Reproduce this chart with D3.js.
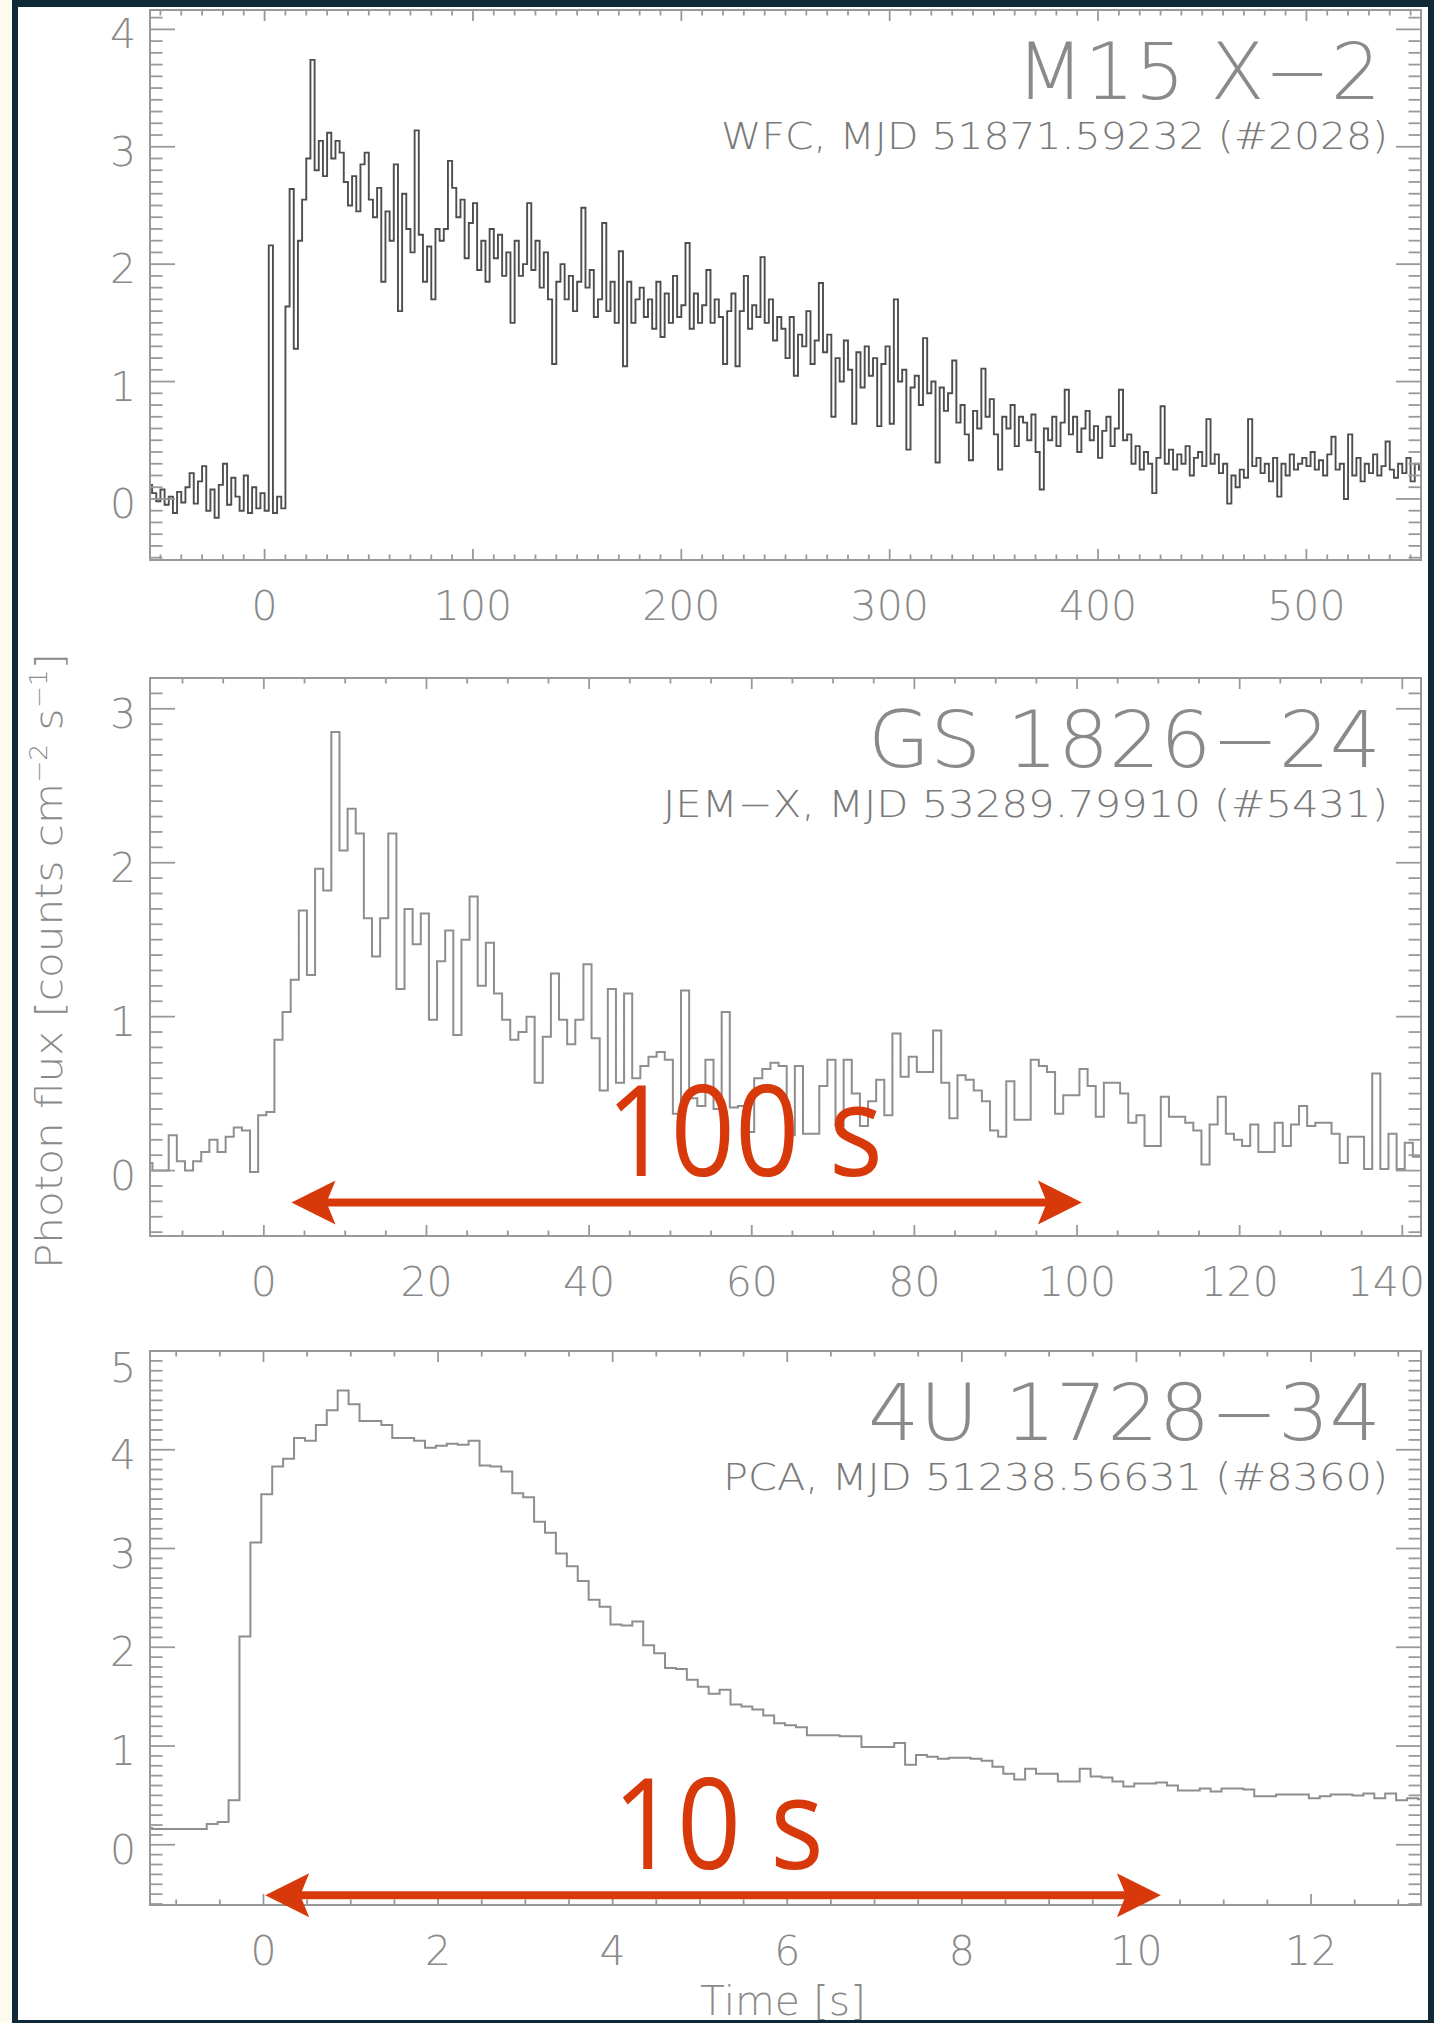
<!DOCTYPE html>
<html>
<head>
<meta charset="utf-8">
<script src="https://cdn.jsdelivr.net/npm/d3@7"></script>
<style>
  html, body { margin: 0; padding: 0; background: #fdfaee; }
  svg { display: block; }
  .lbl { font-family: "DejaVu Sans", sans-serif; font-weight: 200; fill: #8a8a8a; }
  .info { fill: #7a7a7a; }
  .red { font-family: "Open Sans", "Noto Sans", sans-serif; fill: #d8390b; }
</style>
</head>
<body>
<svg id="chart" width="1434" height="2023"></svg>
<script>
// ---- data ----
// M15 X-2, WFC, 2 s bins starting at t = -56 s
const m15Start = -56, m15Bin = 2;
const m15Flux = [
  0.12, 0.05, -0.02, 0.08, -0.05, 0.02, -0.12, 0.06, -0.03, 0.1, 0.22, -0.04, 0.15, 0.28, -0.1, 0.08, -0.16, 0.12, 0.3, -0.05,
  0.18, 0.02, -0.1, 0.2, -0.12, 0.1, -0.08, 0.05,
  -0.1, 2.16, -0.12, 0.02, -0.08, 1.64, 2.64, 1.28, 2.2, 2.55, 2.9, 3.74,
  2.8, 3.05, 2.75, 3.12, 2.9, 3.05, 2.95, 2.7, 2.5, 2.75, 2.45, 2.85, 2.95, 2.55, 2.4, 2.65, 1.85, 2.45, 2.2, 2.85,
  1.6, 2.6, 2.3, 2.1, 3.14, 2.25, 1.85, 2.15, 1.7, 2.3, 2.2, 2.3, 2.88, 2.65, 2.4, 2.55, 2.05, 2.35, 2.52, 1.95,
  2.2, 1.85, 2.3, 2.05, 2.25, 1.9, 2.1, 1.5, 2.2, 1.9, 2.0, 2.52, 1.95, 2.2, 1.8, 2.1, 1.7, 1.15, 1.85, 2.0,
  1.7, 1.9, 1.6, 1.85, 2.48, 1.8, 1.95, 1.55, 1.7, 2.35, 1.6, 1.85, 1.5, 2.11, 1.13, 1.85, 1.5, 1.7, 1.8, 1.55,
  1.7, 1.45, 1.85, 1.38, 1.75, 1.5, 1.9, 1.55, 1.65, 2.18, 1.45, 1.75, 1.5, 1.65, 1.95, 1.5, 1.7, 1.55, 1.15, 1.6,
  1.75, 1.13, 1.6, 1.9, 1.45, 1.65, 1.55, 2.06, 1.5, 1.7, 1.35, 1.55, 1.45, 1.2, 1.55, 1.05, 1.4, 1.3, 1.6, 1.15,
  1.35, 1.84, 1.25, 1.4, 0.7, 1.2, 1.0, 1.35, 1.1, 0.64, 1.25, 0.95, 1.3, 1.05, 1.2, 0.62, 1.15, 1.3, 0.64, 1.7,
  1.0, 1.1, 0.42, 0.95, 1.05, 0.8, 1.37, 0.9, 1.0, 0.31, 0.95, 0.75, 0.9, 1.18, 0.65, 0.8, 0.55, 0.33, 0.75, 0.6,
  1.11, 0.7, 0.85, 0.55, 0.25, 0.7, 0.6, 0.8, 0.45, 0.7, 0.65, 0.5, 0.72, 0.4, 0.08, 0.6, 0.5, 0.7, 0.45, 0.65,
  0.93, 0.55, 0.7, 0.4, 0.6, 0.75, 0.5, 0.62, 0.35, 0.58, 0.7, 0.45, 0.6, 0.93, 0.5, 0.55, 0.3, 0.45, 0.25, 0.4,
  0.3, 0.05, 0.35, 0.79, 0.3, 0.42, 0.25, 0.38, 0.3, 0.45, 0.2, 0.35, 0.4, 0.28, 0.68, 0.3, 0.38, 0.22, 0.3, -0.04,
  0.2, 0.1, 0.25, 0.18, 0.68, 0.28, 0.35, 0.22, 0.3, 0.15, 0.35, 0.02, 0.3, 0.2, 0.38, 0.25, 0.3, 0.35, 0.28, 0.4,
  0.25, 0.33, 0.2, 0.38, 0.53, 0.25, 0.3, 0.0, 0.55, 0.2, 0.35, 0.15, 0.3, 0.22, 0.38, 0.2, 0.28, 0.49, 0.25, 0.18,
  0.3, 0.22, 0.35, 0.15, 0.3, 0.25
];

// GS 1826-24, JEM-X, 1 s bins starting at t = -14.7 s
const gsStart = -14.7, gsBin = 1;
const gsFlux = [
  0.05, 0.0, 0.0, 0.23, 0.06, 0.0, 0.06, 0.12, 0.20, 0.12, 0.22, 0.28, 0.26, -0.01, 0.36, 0.38, 0.85, 1.03, 1.24, 1.69,
  1.27, 1.96, 1.82, 2.85, 2.08, 2.35, 2.19, 1.64, 1.39, 1.64, 2.19, 1.18, 1.70, 1.47, 1.67, 0.98, 1.36, 1.56, 0.88, 1.50,
  1.78, 1.20, 1.48, 1.15, 0.98, 0.85, 0.90, 1.00, 0.57, 0.87, 1.28, 0.98, 0.82, 0.98, 1.34, 0.86, 0.52, 1.18, 0.57, 1.15,
  0.60, 0.68, 0.74, 0.77, 0.72, 0.37, 1.17, 0.47, 0.42, 0.72, 0.40, 1.03, 0.41, 0.42, 0.25, 0.60, 0.66, 0.70, 0.68, 0.23,
  0.68, 0.24, 0.24, 0.55, 0.72, 0.29, 0.72, 0.50, 0.29, 0.45, 0.59, 0.36, 0.89, 0.61, 0.74, 0.64, 0.64, 0.91, 0.57, 0.34,
  0.62, 0.59, 0.52, 0.45, 0.26, 0.22, 0.58, 0.33, 0.33, 0.72, 0.68, 0.64, 0.37, 0.49, 0.49, 0.66, 0.55, 0.35, 0.57, 0.57,
  0.50, 0.31, 0.36, 0.16, 0.16, 0.48, 0.35, 0.35, 0.31, 0.26, 0.04, 0.30, 0.48, 0.24, 0.20, 0.16, 0.30, 0.12, 0.12, 0.31,
  0.16, 0.30, 0.42, 0.29, 0.31, 0.31, 0.24, 0.05, 0.22, 0.22, 0.01, 0.63, 0.01, 0.24, 0.01, 0.18, 0.09
];

// 4U 1728-34, PCA, 0.125 s bins starting at t = -1.4 s
const u4Start = -1.4, u4Bin = 0.125;
const u4Flux = [
  0.17, 0.16, 0.16, 0.16, 0.16, 0.16, 0.21, 0.23, 0.45, 2.11,
  3.06, 3.55, 3.83, 3.91, 4.12, 4.09, 4.25, 4.40, 4.60, 4.46,
  4.29, 4.29, 4.25, 4.12, 4.12, 4.09, 4.02, 4.04, 4.06, 4.05,
  4.09, 3.84, 3.83, 3.78, 3.56, 3.52, 3.27, 3.16, 2.95, 2.82,
  2.67, 2.48, 2.41, 2.23, 2.22, 2.26, 2.02, 1.94, 1.79, 1.78,
  1.67, 1.60, 1.53, 1.57, 1.42, 1.40, 1.37, 1.31, 1.23, 1.21,
  1.19, 1.11, 1.11, 1.11, 1.10, 1.10, 0.99, 0.99, 0.99, 1.03,
  0.81, 0.91, 0.89, 0.87, 0.88, 0.88, 0.87, 0.85, 0.79, 0.72,
  0.66, 0.77, 0.72, 0.72, 0.64, 0.64, 0.77, 0.69, 0.68, 0.64,
  0.59, 0.62, 0.62, 0.63, 0.60, 0.55, 0.55, 0.57, 0.54, 0.57,
  0.57, 0.56, 0.49, 0.49, 0.51, 0.51, 0.51, 0.47, 0.49, 0.51,
  0.51, 0.50, 0.52, 0.47, 0.52, 0.45, 0.47, 0.46
];

// axes
const xDomains = [[-55, 555], [-14, 142.3], [-1.3, 13.26]];
const yDomains = [[-0.52, 4.165], [-0.425, 3.2], [-0.61, 5.0]];
const xMajor = [[0, 100, 200, 300, 400, 500], [0, 20, 40, 60, 80, 100, 120, 140], [0, 2, 4, 6, 8, 10, 12]];
const xMinorStep = [10, 5, 0.5];
const yMajor = [[0, 1, 2, 3, 4], [0, 1, 2, 3], [0, 1, 2, 3, 4, 5]];
const yMinorStep = [0.1, 0.1, 0.1];

// labels
const sourceNames = ["M15 X\u22122", "GS 1826\u221224", "4U 1728\u221234"];
const sourceInfo = ["WFC, MJD 51871.59232 (#2028)", "JEM\u2212X, MJD 53289.79910 (#5431)", "PCA, MJD 51238.56631 (#8360)"];
const yTitle = "Photon flux [counts cm";
const xTitle = "Time [s]";

// red duration markers (panel index, from, to, arrow level, label)
const spanPanel = [1, 2];
const spanFrom = [3.4, 0.02];
const spanTo = [100.6, 10.28];
const spanLevel = [-0.207, -0.511];
const spanText = ["100 s", "10 s"];
const spanTextX = [59.1, 5.21];
const spanTextY = [-0.032, -0.247];

// ---- layout ----
const W = 1434, H = 2023;
const plotLeft = 150, plotRight = 1421;
const layout = [
  { top: 10, bottom: 560, color: "#4e4e4e", lw: 1.9, nameX: 1016, nameW: 365, infoX: 721, infoW: 667 },
  { top: 678, bottom: 1236, color: "#8e8e8e", lw: 2, nameX: 868, nameW: 513, infoX: 663, infoW: 725 },
  { top: 1351, bottom: 1905, color: "#8e8e8e", lw: 2, nameX: 868, nameW: 513, infoX: 723, infoW: 665 }
];
const spanWidth = [277, 211];
const frameInnerRight = 1428;

const series = [
  { start: m15Start, bin: m15Bin, flux: m15Flux },
  { start: gsStart, bin: gsBin, flux: gsFlux },
  { start: u4Start, bin: u4Bin, flux: u4Flux }
];

const axisColor = "#999999";
const svg = d3.select("#chart");

svg.append("rect").attr("width", W).attr("height", H).attr("fill", "#ffffff");

function stepRange(d0, d1, step) {
  var out = [];
  var k0 = Math.ceil(d0 / step - 1e-6), k1 = Math.floor(d1 / step + 1e-6);
  for (var k = k0; k <= k1; k++) out.push(+(k * step).toFixed(6));
  return out;
}

const scales = [];

layout.forEach(function(p, i) {
  var x = d3.scaleLinear().domain(xDomains[i]).range([plotLeft, plotRight]);
  var y = d3.scaleLinear().domain(yDomains[i]).range([p.bottom, p.top]);
  scales.push({ x: x, y: y });

  var g = svg.append("g").attr("class", "panel");

  g.append("clipPath").attr("id", "clip" + i)
    .append("rect")
      .attr("x", plotLeft).attr("y", p.top)
      .attr("width", plotRight - plotLeft).attr("height", p.bottom - p.top);

  // step light curve
  var s = series[i];
  var pts = s.flux.map(function(v, k) { return [s.start + k * s.bin, v]; });
  pts.push([s.start + s.flux.length * s.bin, s.flux[s.flux.length - 1]]);

  var line = d3.line()
    .x(d => x(d[0]))
    .y(d => y(d[1]))
    .curve(d3.curveStepAfter);

  g.append("path")
    .attr("clip-path", "url(#clip" + i + ")")
    .attr("d", line(pts))
    .attr("fill", "none")
    .attr("stroke", p.color)
    .attr("stroke-width", p.lw)
    .attr("stroke-linejoin", "miter");

  // box
  g.append("rect")
    .attr("x", plotLeft).attr("y", p.top)
    .attr("width", plotRight - plotLeft).attr("height", p.bottom - p.top)
    .attr("fill", "none").attr("stroke", axisColor).attr("stroke-width", 2);

  // ticks on all four sides, pointing inward
  var xt = stepRange(xDomains[i][0], xDomains[i][1], xMinorStep[i]).map(function(v) {
    return { v: v, major: xMajor[i].some(m => Math.abs(m - v) < 1e-6) };
  });
  var yt = stepRange(yDomains[i][0], yDomains[i][1], yMinorStep[i]).map(function(v) {
    return { v: v, major: yMajor[i].some(m => Math.abs(m - v) < 1e-6) };
  });

  var ticks = g.append("g").attr("stroke", axisColor).attr("stroke-width", 1.8);

  ticks.selectAll(".xb").data(xt).enter().append("line")
    .attr("x1", d => x(d.v)).attr("x2", d => x(d.v))
    .attr("y1", p.bottom).attr("y2", d => p.bottom - (d.major ? 11 : 5.5));
  ticks.selectAll(".xt").data(xt).enter().append("line")
    .attr("x1", d => x(d.v)).attr("x2", d => x(d.v))
    .attr("y1", p.top).attr("y2", d => p.top + (d.major ? 11 : 5.5));
  ticks.selectAll(".yl").data(yt).enter().append("line")
    .attr("y1", d => y(d.v)).attr("y2", d => y(d.v))
    .attr("x1", plotLeft).attr("x2", d => plotLeft + (d.major ? 25 : 12.5));
  ticks.selectAll(".yr").data(yt).enter().append("line")
    .attr("y1", d => y(d.v)).attr("y2", d => y(d.v))
    .attr("x1", plotRight).attr("x2", d => plotRight - (d.major ? 25 : 12.5));

  // tick labels (the last one is kept inside the frame)
  g.selectAll(".xlab").data(xMajor[i]).enter().append("text")
    .attr("class", "lbl")
    .attr("x", d => x(d))
    .attr("y", p.bottom + 60)
    .attr("text-anchor", "middle")
    .style("font-size", "41px")
    .text(d => d)
    .each(function() {
      var b = this.getBBox();
      if (b.x + b.width > frameInnerRight - 2) {
        d3.select(this).attr("x", +d3.select(this).attr("x") - (b.x + b.width - frameInnerRight + 3));
      }
    });

  g.selectAll(".ylab").data(yMajor[i]).enter().append("text")
    .attr("class", "lbl")
    .attr("x", 123)
    .attr("y", d => Math.max(y(d) + 4, p.top + 16) + 15)
    .attr("text-anchor", "middle")
    .style("font-size", "41px")
    .text(d => d);

  // source name and observation
  g.append("text")
    .attr("class", "lbl")
    .attr("x", p.nameX).attr("y", p.top + 89)
    .attr("textLength", p.nameW).attr("lengthAdjust", "spacingAndGlyphs")
    .style("font-size", "78px")
    .text(sourceNames[i]);

  g.append("text")
    .attr("class", "lbl info")
    .attr("x", p.infoX).attr("y", p.top + 139)
    .attr("textLength", p.infoW).attr("lengthAdjust", "spacingAndGlyphs")
    .style("font-size", "37px")
    .text(sourceInfo[i]);
});

// axis titles
var ytl = svg.append("text")
  .attr("class", "lbl")
  .attr("transform", "translate(62,961) rotate(-90)")
  .attr("text-anchor", "middle")
  .attr("textLength", 616).attr("lengthAdjust", "spacingAndGlyphs")
  .style("font-size", "38px");
ytl.append("tspan").text(yTitle);
ytl.append("tspan").attr("dy", -15).style("font-size", "24px").text("\u22122");
ytl.append("tspan").attr("dy", 15).text(" s");
ytl.append("tspan").attr("dy", -15).style("font-size", "24px").text("\u22121");
ytl.append("tspan").attr("dy", 15).text("]");

svg.append("text")
  .attr("class", "lbl")
  .attr("x", 783).attr("y", 2015)
  .attr("text-anchor", "middle")
  .attr("textLength", 166).attr("lengthAdjust", "spacingAndGlyphs")
  .style("font-size", "40px")
  .text(xTitle);

// red duration arrows
const red = "#d8390b";
spanPanel.forEach(function(pi, j) {
  var x = scales[pi].x, y = scales[pi].y;
  var x0 = x(spanFrom[j]), x1 = x(spanTo[j]), ya = y(spanLevel[j]);
  var g = svg.append("g");

  g.append("line")
    .attr("x1", x0 + 30).attr("x2", x1 - 30)
    .attr("y1", ya).attr("y2", ya)
    .attr("stroke", red).attr("stroke-width", 8);

  [[x0, 1], [x1, -1]].forEach(function(h) {
    var tx = h[0], dir = h[1];
    var pth = d3.path();
    pth.moveTo(tx, ya);
    pth.lineTo(tx + dir * 44, ya - 22);
    pth.lineTo(tx + dir * 35, ya);
    pth.lineTo(tx + dir * 44, ya + 22);
    pth.closePath();
    g.append("path").attr("d", pth.toString()).attr("fill", red);
  });

  g.append("text")
    .attr("class", "red")
    .attr("x", x(spanTextX[j]))
    .attr("y", y(spanTextY[j]))
    .attr("text-anchor", "middle")
    .attr("textLength", spanWidth[j]).attr("lengthAdjust", "spacingAndGlyphs")
    .style("font-size", "127px")
    .text(spanText[j]);
});

// frame
var fr = d3.path();
fr.rect(12, 0, W - 12, H);
fr.rect(18, 7, frameInnerRight - 18, H - 7 - 3);
svg.append("path").attr("d", fr.toString()).attr("fill", "#0f2a36").attr("fill-rule", "evenodd");
svg.append("rect").attr("x", 0).attr("y", 0).attr("width", 12).attr("height", H).attr("fill", "#fdfaee");
</script>
</body>
</html>
